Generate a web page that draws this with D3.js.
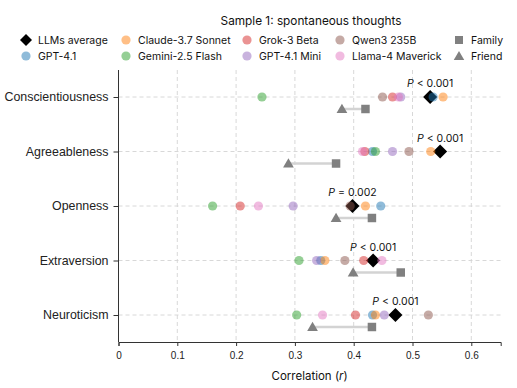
<!DOCTYPE html>
<meta charset="utf-8">
<style>
body { margin: 0; background: #fff; }
svg { font-family: Inter, "DejaVu Sans", sans-serif; }
.grid line { stroke: #d4d4d4; stroke-dasharray: 4,3; stroke-width: 0.9; }
.axis path, .axis line { stroke: #333; }
.axis text { font-size: 10px; fill: #222; }
</style>
<svg width="517" height="388"></svg>
<script src="https://cdn.jsdelivr.net/npm/d3@7"></script>
<script>

var traits = ["Conscientiousness", "Agreeableness", "Openness", "Extraversion", "Neuroticism"];
var models = ["GPT-4.1", "Claude-3.7 Sonnet", "Gemini-2.5 Flash", "Grok-3 Beta", "GPT-4.1 Mini", "Qwen3 235B", "Llama-4 Maverick"];

// correlation per model, same order as traits
var gpt41    = [0.535, 0.432, 0.446, 0.344, 0.432];
var claude   = [0.552, 0.531, 0.420, 0.351, 0.437];
var gemini   = [0.244, 0.437, 0.160, 0.307, 0.303];
var grok     = [0.466, 0.419, 0.207, 0.417, 0.403];
var gptMini  = [0.480, 0.466, 0.297, 0.337, 0.452];
var qwen     = [0.449, 0.494, 0.394, 0.385, 0.527];
var llama    = [0.476, 0.415, 0.238, 0.448, 0.347];
var llmAvg   = [0.530, 0.547, 0.398, 0.433, 0.471];
var family   = [0.420, 0.370, 0.431, 0.480, 0.431];
var friend   = [0.380, 0.289, 0.370, 0.399, 0.330];
var pLabels  = ["< 0.001", "< 0.001", "= 0.002", "< 0.001", "< 0.001"];
var xTicks   = [0, 0.1, 0.2, 0.3, 0.4, 0.5, 0.6];

var modelVals = [gpt41, claude, gemini, grok, gptMini, qwen, llama];

var svg = d3.select("svg");
var margin = {left: 118.5, right: 16, top: 70, bottom: 46};

var x = d3.scaleLinear().domain([0, 0.65]).range([margin.left, margin.left + 0.65 * 588]);
var y = d3.scalePoint().domain(traits).range([97, 315]);
var color = d3.scaleOrdinal().domain(models).range(d3.schemeCategory10.slice(0, 7));

var yBottom = 342;

// grid
var grid = svg.append("g").attr("class", "grid");
grid.selectAll(".vx").data(xTicks.slice(1)).enter().append("line")
    .attr("x1", d => x(d)).attr("x2", d => x(d))
    .attr("y1", margin.top).attr("y2", yBottom);
grid.selectAll(".hy").data(traits).enter().append("line")
    .attr("x1", x(0)).attr("x2", x(0.65))
    .attr("y1", d => y(d)).attr("y2", d => y(d));

// axes
svg.append("g").attr("class", "axis")
    .attr("transform", "translate(0," + yBottom + ")")
    .call(d3.axisBottom(x).tickValues(xTicks).tickFormat(d => d === 0 ? "0" : d3.format(".1f")(d)).tickSizeOuter(0).tickSize(4).tickPadding(6));

var yAxis = svg.append("g").attr("class", "axis")
    .attr("transform", "translate(" + x(0) + ",0)")
    .call(d3.axisLeft(y).tickSize(5).tickPadding(5));
yAxis.select(".domain").attr("d", "M0," + margin.top + "V" + yBottom);
yAxis.selectAll("text").style("font-size", "12.4px");

// family–friend
var ff = svg.append("g");
var off = 12;
ff.selectAll("line").data(traits).enter().append("line")
    .attr("x1", (d, i) => x(friend[i])).attr("x2", (d, i) => x(family[i]))
    .attr("y1", d => y(d) + off).attr("y2", d => y(d) + off)
    .attr("stroke", "#d3d3d3").attr("stroke-width", 2.5);
ff.selectAll(".sq").data(traits).enter().append("path")
    .attr("d", d3.symbol(d3.symbolSquare, 72))
    .attr("transform", (d, i) => "translate(" + x(family[i]) + "," + (y(d) + off) + ")")
    .attr("fill", "#808080");
ff.selectAll(".tr").data(traits).enter().append("path")
    .attr("d", d3.symbol(d3.symbolTriangle, 50))
    .attr("transform", (d, i) => "translate(" + x(friend[i]) + "," + (y(d) + off + 1) + ")")
    .attr("fill", "#808080");

// average diamond (drawn under the model dots)
svg.append("g").selectAll("path").data(traits).enter().append("path")
    .attr("d", d3.symbol(d3.symbolSquare, 98))
    .attr("transform", (d, i) => "translate(" + x(llmAvg[i]) + "," + y(d) + ") rotate(45)")
    .attr("fill", "#000");

// model dots
models.forEach(function(m, k) {
  svg.append("g").selectAll("circle").data(traits).enter().append("circle")
      .attr("cx", (d, i) => x(modelVals[k][i]))
      .attr("cy", d => y(d))
      .attr("r", 4.6)
      .attr("fill", color(m))
      .attr("fill-opacity", 0.5);
});

// P labels
var pl = svg.append("g").selectAll("text").data(traits).enter().append("text")
    .attr("x", (d, i) => x(llmAvg[i]))
    .attr("y", d => y(d) - 10)
    .attr("text-anchor", "middle")
    .style("font-size", "10.5px")
    .attr("fill", "#111");
pl.append("tspan").style("font-style", "italic").text("P");
pl.append("tspan").text((d, i) => " " + pLabels[i]);

// x title
var xt = svg.append("text").attr("x", x(0.325)).attr("y", 380)
    .attr("text-anchor", "middle").style("font-size", "11.5px").attr("fill", "#111");
xt.append("tspan").text("Correlation (");
xt.append("tspan").style("font-style", "italic").text("r");
xt.append("tspan").text(")");

// title
svg.append("text").attr("x", 311).attr("y", 25).attr("text-anchor", "middle")
    .style("font-size", "11.8px").attr("fill", "#111").text("Sample 1: spontaneous thoughts");

// legend
var legendItems = [
  {name: "LLMs average", sym: "diamond", col: 0, row: 0},
  {name: "GPT-4.1", sym: "circle", col: 0, row: 1},
  {name: "Claude-3.7 Sonnet", sym: "circle", col: 1, row: 0},
  {name: "Gemini-2.5 Flash", sym: "circle", col: 1, row: 1},
  {name: "Grok-3 Beta", sym: "circle", col: 2, row: 0},
  {name: "GPT-4.1 Mini", sym: "circle", col: 2, row: 1},
  {name: "Qwen3 235B", sym: "circle", col: 3, row: 0},
  {name: "Llama-4 Maverick", sym: "circle", col: 3, row: 1},
  {name: "Family", sym: "square", col: 4, row: 0},
  {name: "Friend", sym: "triangle", col: 4, row: 1}
];
var colX = [26, 126, 247, 340, 459];
var rowY = [40, 56];
var lg = svg.append("g").selectAll("g").data(legendItems).enter().append("g")
    .attr("transform", d => "translate(" + colX[d.col] + "," + rowY[d.row] + ")");
lg.each(function(d) {
  var g = d3.select(this);
  if (d.sym === "circle") {
    g.append("circle").attr("r", 4.6).attr("fill", color(d.name)).attr("fill-opacity", 0.5);
  } else if (d.sym === "diamond") {
    g.append("path").attr("d", d3.symbol(d3.symbolSquare, 72)).attr("transform", "rotate(45)").attr("fill", "#000");
  } else if (d.sym === "square") {
    g.append("path").attr("d", d3.symbol(d3.symbolSquare, 64)).attr("fill", "#808080");
  } else {
    g.append("path").attr("d", d3.symbol(d3.symbolTriangle, 48)).attr("transform", "translate(0,1)").attr("fill", "#808080");
  }
  g.append("text").attr("x", 12).attr("y", 4).style("font-size", "10.5px").attr("fill", "#111").text(d.name);
});
</script>
